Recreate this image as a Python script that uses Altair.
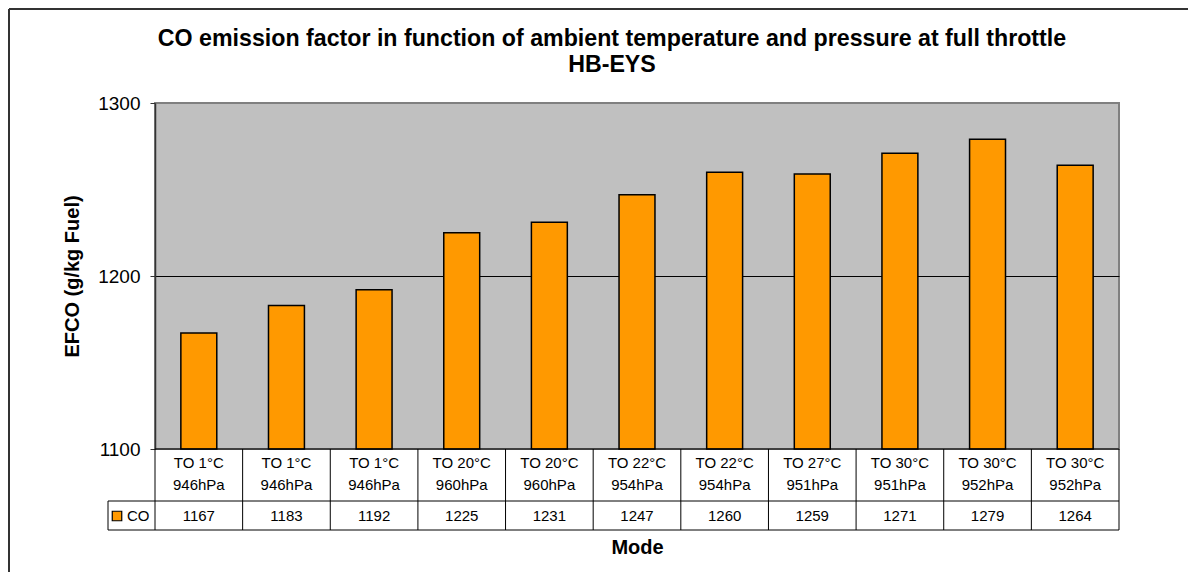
import altair as alt
import pandas as pd

temps = ["TO 1°C", "TO 1°C", "TO 1°C", "TO 20°C", "TO 20°C", "TO 22°C",
         "TO 22°C", "TO 27°C", "TO 30°C", "TO 30°C", "TO 30°C"]
pressures = ["946hPa", "946hPa", "946hPa", "960hPa", "960hPa", "954hPa",
             "954hPa", "951hPa", "951hPa", "952hPa", "952hPa"]
co_values = [1167, 1183, 1192, 1225, 1231, 1247, 1260, 1259, 1271, 1279, 1264]
series_name = "CO"
y_ticks = [1100, 1200, 1300]

df = pd.DataFrame({
    "idx": list(range(len(co_values))),
    "label": [t + "\n" + p for t, p in zip(temps, pressures)],
    "value": co_values,
})
one = pd.DataFrame({"series": [series_name]})

FONT = "Liberation Sans"
W, H = 964, 346

x_axis = alt.Axis(labels=False, ticks=False, domain=False,
                  title="Mode", titleFont=FONT, titleFontSize=20,
                  titleFontWeight="bold", titlePadding=88,
                  titleColor="black")
x_scale = alt.Scale(paddingInner=0, paddingOuter=0)
xenc = alt.X("idx:O", scale=x_scale, axis=x_axis)

yenc = alt.Y("value:Q",
             scale=alt.Scale(domain=[1100, 1300], zero=False, nice=False),
             axis=alt.Axis(values=y_ticks, format="d", title="EFCO (g/kg Fuel)",
                           titleFont=FONT, titleFontSize=20, titleFontWeight="bold",
                           titleColor="black", titlePadding=15,
                           labelFont=FONT, labelFontSize=19, labelColor="black",
                           labelPadding=10, tickSize=5, tickColor="#333333",
                           domainColor="#333333", domainWidth=1.5,
                           grid=True, gridWidth=1,
                           gridColor={"condition": {"test": "datum.value === 1200",
                                                    "value": "#000000"},
                                      "value": "#808080"}))

base = alt.Chart(df)

bars = base.mark_bar(width={"band": 0.41}, color="#FF9900",
                     stroke="black", strokeWidth=1.5).encode(
    x=xenc, y=yenc, y2=alt.datum(1100))

cat_text = base.mark_text(font=FONT, fontSize=15, lineBreak="\n", lineHeight=22,
                          baseline="middle", color="black").encode(
    x=xenc, y=alt.value(360), text="label:N")

val_text = base.mark_text(font=FONT, fontSize=15, baseline="middle",
                          color="black").encode(
    x=xenc, y=alt.value(413), text="value:Q")

col_rules = base.mark_rule(color="black", strokeWidth=1).encode(
    x=alt.X("idx:O", bandPosition=0, scale=x_scale, axis=x_axis),
    y=alt.value(H), y2=alt.value(427))

deco = alt.Chart(one)
right_rule = deco.mark_rule(color="black", strokeWidth=1).encode(
    x=alt.value(W), y=alt.value(H), y2=alt.value(427))
top_rule = deco.mark_rule(color="black", strokeWidth=1.2).encode(
    x=alt.value(0), x2=alt.value(W), y=alt.value(H))
mid_rule = deco.mark_rule(color="black", strokeWidth=1).encode(
    x=alt.value(-47), x2=alt.value(W), y=alt.value(398))
bot_rule = deco.mark_rule(color="black", strokeWidth=1).encode(
    x=alt.value(-47), x2=alt.value(W), y=alt.value(427))
leg_rule = deco.mark_rule(color="black", strokeWidth=1).encode(
    x=alt.value(-47), y=alt.value(398), y2=alt.value(427))
leg_sq = deco.mark_point(shape="square", size=90, filled=True, color="#FF9900",
                         stroke="black", strokeWidth=1.2, opacity=1).encode(
    x=alt.value(-38), y=alt.value(413))
leg_txt = deco.mark_text(font=FONT, fontSize=15, align="left", baseline="middle",
                         color="black").encode(
    x=alt.value(-28), y=alt.value(413), text="series:N")

frame_left = deco.mark_rule(color="#333333", strokeWidth=2).encode(
    x=alt.value(-146), y=alt.value(-94), y2=alt.value(470))
frame_top = deco.mark_rule(color="#333333", strokeWidth=2).encode(
    x=alt.value(-146), x2=alt.value(1040), y=alt.value(-94))

chart = alt.layer(
    bars, cat_text, val_text, col_rules, right_rule, top_rule, mid_rule,
    bot_rule, leg_rule, leg_sq, leg_txt, frame_left, frame_top
).properties(
    width=W, height=H,
    title=alt.Title(["CO emission factor in function of ambient temperature and pressure at full throttle",
                     "HB-EYS"],
                    font=FONT, fontSize=23.2, fontWeight="bold", color="black",
                    anchor="middle", frame="group", dx=-25, lineHeight=26, offset=-69),
    autosize=alt.AutoSizeParams(type="none"),
    padding={"left": 147, "top": 95, "right": 69, "bottom": 123},
    background="white",
).configure_view(
    fill="#C0C0C0", stroke="#808080", strokeWidth=2
)

chart.save("out.html", embed_options={"renderer": "svg", "actions": False})
